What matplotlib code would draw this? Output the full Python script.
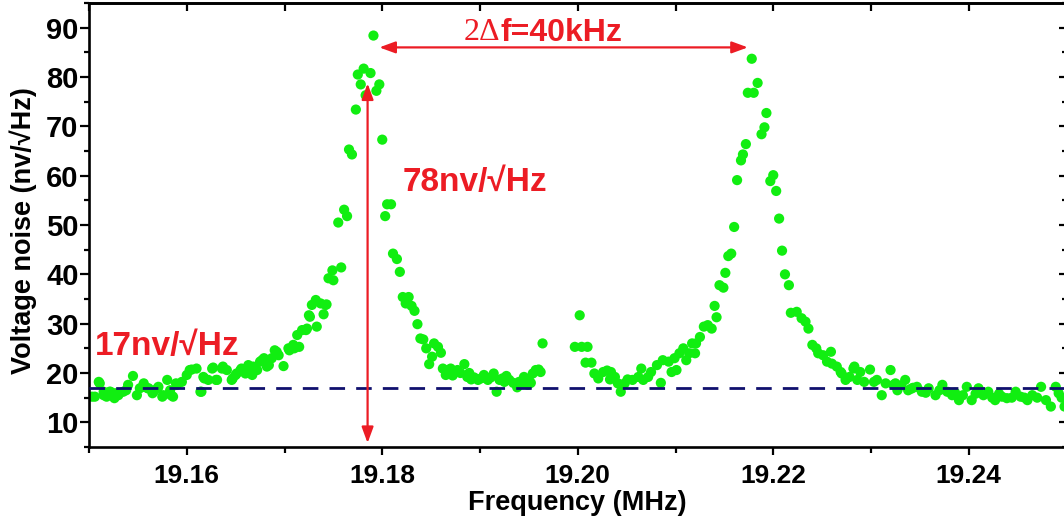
import matplotlib
matplotlib.use("Agg")
import matplotlib.pyplot as plt
from matplotlib.ticker import MultipleLocator, FormatStrFormatter, NullFormatter
from matplotlib.patches import ArrowStyle
import numpy as np

# ---- measured spectrum (frequency in MHz, voltage noise in nV/sqrt(Hz)) ----
left_tail_f = [19.1503, 19.1506, 19.1510, 19.1511, 19.1515, 19.1515, 19.1518, 19.1521,
               19.1522, 19.1526, 19.1527, 19.1530, 19.1531, 19.1535, 19.1538, 19.1540,
               19.1545, 19.1549, 19.1552, 19.1555, 19.1556, 19.1560, 19.1561, 19.1565,
               19.1566, 19.1570, 19.1571, 19.1575, 19.1576, 19.1580, 19.1583, 19.1584,
               19.1586, 19.1589, 19.1590, 19.1595, 19.1600, 19.1603, 19.1605, 19.1610,
               19.1614, 19.1615, 19.1617, 19.1618, 19.1622, 19.1626, 19.1627, 19.1630,
               19.1631, 19.1636, 19.1637, 19.1641, 19.1646, 19.1647, 19.1650, 19.1651,
               19.1655, 19.1656, 19.1660, 19.1663, 19.1665, 19.1667, 19.1668, 19.1672,
               19.1675, 19.1677, 19.1679, 19.1682, 19.1684, 19.1687, 19.1690, 19.1692,
               19.1694, 19.1699, 19.1704, 19.1705, 19.1709, 19.1710, 19.1713, 19.1715]
left_tail_v = [15.2, 15.2, 18.2, 17.9, 16.2, 15.5, 15.2, 16.2,
               16.2, 14.9, 15.9, 15.5, 15.9, 16.2, 16.5, 17.6,
               19.4, 15.5, 16.9, 17.2, 17.9, 16.9, 16.9, 15.9,
               16.2, 16.9, 17.2, 15.2, 15.5, 18.6, 16.5, 15.5,
               15.2, 17.9, 17.6, 18.2, 19.6, 20.6, 20.7, 20.9,
               16.2, 16.2, 19.2, 18.9, 18.6, 20.9, 21.1, 18.6,
               18.6, 20.9, 21.3, 20.6, 18.6, 18.9, 19.6, 19.9,
               20.6, 20.9, 19.9, 21.6, 19.9, 19.6, 21.3, 20.6,
               22.3, 22.6, 23.0, 21.3, 21.6, 23.0, 24.6, 24.3,
               23.6, 21.4, 25.0, 24.6, 25.7, 25.0, 27.7, 25.3]

peak1_f = [19.1718, 19.1722, 19.1723, 19.1725, 19.1726, 19.1728, 19.1732, 19.1733,
           19.1737, 19.1740, 19.1742, 19.1743, 19.1745, 19.1749, 19.1750, 19.1755,
           19.1758, 19.1761, 19.1764, 19.1766, 19.1769, 19.1773, 19.1775, 19.1778,
           19.1781, 19.1783, 19.1788, 19.1791, 19.1794, 19.1797, 19.1800, 19.1803,
           19.1805, 19.1809, 19.1811, 19.1815, 19.1818, 19.1821, 19.1824, 19.1827,
           19.1830, 19.1833, 19.1836, 19.1839, 19.1842, 19.1845, 19.1848, 19.1851,
           19.1853, 19.1857, 19.1860]
peak1_v = [28.7, 28.7, 29.0, 31.7, 31.4, 33.8, 34.8, 29.4,
           34.1, 31.9, 33.8, 33.9, 39.2, 40.8, 38.8, 50.5,
           41.4, 53.1, 51.8, 65.3, 64.3, 73.4, 80.5, 78.5,
           81.7, 76.3, 80.8, 88.4, 77.2, 78.5, 67.3, 51.8,
           54.2, 54.2, 44.2, 43.1, 40.5, 35.4, 34.1, 35.4,
           33.6, 32.6, 29.9, 27.0, 26.8, 25.0, 21.8, 23.3,
           26.0, 25.3, 24.1]

middle_f = [19.1862, 19.1865, 19.1867, 19.1870, 19.1872, 19.1874, 19.1877, 19.1880,
            19.1884, 19.1887, 19.1889, 19.1891, 19.1894, 19.1898, 19.1901, 19.1904,
            19.1906, 19.1908, 19.1911, 19.1914, 19.1917, 19.1920, 19.1923, 19.1925,
            19.1927, 19.1930, 19.1934, 19.1938, 19.1940, 19.1943, 19.1945, 19.1949,
            19.1950, 19.1952, 19.1954, 19.1957, 19.1960, 19.1962, 19.1964,
            19.1997, 19.2002, 19.2004, 19.2008, 19.2010, 19.2014, 19.2017, 19.2021,
            19.2026, 19.2030, 19.2033, 19.2034, 19.2038, 19.2041, 19.2044, 19.2048,
            19.2051, 19.2056, 19.2062, 19.2065, 19.2067, 19.2072, 19.2075, 19.2081,
            19.2085, 19.2087, 19.2093, 19.2096, 19.2099, 19.2101, 19.2104, 19.2108,
            19.2111, 19.2114, 19.2117, 19.2120, 19.2121, 19.2125]
middle_v = [20.9, 19.6, 20.6, 20.9, 19.5, 20.2, 20.6, 20.0,
            21.8, 19.2, 20.0, 18.7, 19.1, 18.6, 18.9, 19.6,
            19.0, 18.6, 19.1, 19.9, 16.2, 18.6, 18.9, 18.2,
            19.4, 18.6, 18.0, 17.1, 18.2, 17.8, 19.2, 17.6,
            18.6, 18.0, 19.9, 20.6, 20.7, 20.2, 26.0,
            25.3, 31.7, 25.3, 22.1, 25.3, 22.1, 19.9, 18.9,
            20.2, 20.5, 18.7, 20.2, 19.2, 17.9, 16.2, 17.9,
            18.7, 18.6, 19.2, 20.9, 18.6, 19.2, 20.2, 21.6,
            18.0, 22.6, 22.3, 20.2, 23.0, 20.6, 24.0, 25.0,
            22.6, 24.0, 26.0, 24.0, 26.0, 27.3]

peak2_f = [19.2129, 19.2133, 19.2137, 19.2140, 19.2142, 19.2145, 19.2149, 19.2151,
           19.2154, 19.2157, 19.2160, 19.2163, 19.2167, 19.2169, 19.2172, 19.2174,
           19.2178, 19.2180, 19.2184, 19.2188, 19.2191, 19.2193, 19.2197, 19.2200,
           19.2203, 19.2206, 19.2209, 19.2212, 19.2216, 19.2218, 19.2224, 19.2229,
           19.2233, 19.2236, 19.2240, 19.2244, 19.2246, 19.2251, 19.2255, 19.2259,
           19.2260, 19.2265, 19.2269]
peak2_v = [29.4, 29.7, 29.0, 33.6, 31.3, 37.8, 37.3, 40.3,
           43.7, 44.2, 49.6, 59.1, 63.1, 64.3, 66.4, 76.8,
           83.7, 76.8, 78.8, 68.4, 69.8, 72.7, 58.9, 60.1,
           56.9, 51.3, 44.8, 40.0, 37.8, 32.2, 32.4, 31.1,
           30.4, 29.0, 25.7, 25.0, 24.0, 23.6, 22.3, 24.3,
           21.9, 21.3, 20.2]

right_tail_f = [19.2270, 19.2274, 19.2278, 19.2282, 19.2283, 19.2286, 19.2289, 19.2293,
                19.2299, 19.2303, 19.2306, 19.2311, 19.2315, 19.2320, 19.2323, 19.2325,
                19.2327, 19.2331, 19.2335, 19.2338, 19.2341, 19.2343, 19.2347, 19.2352,
                19.2356, 19.2359, 19.2366, 19.2370, 19.2373, 19.2378, 19.2383, 19.2386,
                19.2390, 19.2394, 19.2398, 19.2403, 19.2407, 19.2410, 19.2415, 19.2420,
                19.2424, 19.2427, 19.2431, 19.2434, 19.2439, 19.2444, 19.2448, 19.2453,
                19.2457, 19.2460, 19.2465, 19.2470, 19.2474, 19.2479, 19.2484, 19.2489,
                19.2492, 19.2495, 19.2498]
right_tail_v = [19.9, 18.6, 19.2, 20.9, 21.3, 18.6, 20.2, 18.2,
                20.7, 18.2, 18.6, 15.5, 17.9, 20.6, 17.6, 17.9,
                16.5, 17.5, 18.6, 16.5, 16.8, 17.0, 17.2, 16.2,
                16.0, 16.9, 15.5, 16.5, 17.6, 16.2, 15.5, 16.0,
                14.5, 15.5, 17.2, 14.5, 15.8, 16.9, 15.5, 16.2,
                15.0, 14.5, 15.8, 15.2, 14.9, 15.0, 16.2, 15.2,
                15.0, 14.5, 15.5, 15.0, 17.2, 14.5, 13.2, 17.2,
                15.9, 15.0, 13.2]

# ---- annotation values ----
baseline_level = 17          # nV/sqrt(Hz)
peak_height = 78             # nV/sqrt(Hz)
split_left, split_right = 19.1797, 19.2174   # MHz, peak separation (2Δf)
split_level = 86
peak_marker_f = 19.1785

freq = np.concatenate([left_tail_f, peak1_f, middle_f, peak2_f, right_tail_f])
noise = np.concatenate([left_tail_v, peak1_v, middle_v, peak2_v, right_tail_v])

RED = "#EC1C24"
GREEN = "#11EE11"
NAVY = "#10106E"

plt.rcParams["font.family"] = ["Liberation Sans", "DejaVu Sans"]
plt.rcParams["font.weight"] = "bold"

W, H = 1064, 523
AX_W = 1066.5 - 89
fig = plt.figure(figsize=(W / 100, H / 100), dpi=100)
ax = fig.add_axes([89 / W, (H - 447) / H, AX_W / W, (447 - 3) / H])

ax.scatter(freq, noise, s=54, color=GREEN, edgecolors="none", zorder=2)
ax.axhline(baseline_level, color=NAVY, lw=2.0, linestyle=(0, (5.6, 4.0)), zorder=3)

ax.set_xlim(19.15, 19.25)
ax.set_ylim(5, 95)

ax.xaxis.set_major_locator(MultipleLocator(0.02))
ax.xaxis.set_minor_locator(MultipleLocator(0.01))
ax.xaxis.set_major_formatter(FormatStrFormatter("%.2f"))
ax.yaxis.set_minor_locator(MultipleLocator(5))
ax.yaxis.set_major_formatter(FormatStrFormatter("%d"))
ax.set_yticks(np.arange(10, 91, 10))

ax.tick_params(axis="both", which="both", direction="out", width=1.6)
ax.tick_params(axis="x", which="major", length=6, pad=6, labelsize=19)
ax.tick_params(axis="x", which="minor", length=4)
ax.tick_params(axis="y", which="major", length=6.5, pad=1, labelsize=21)
ax.tick_params(axis="y", which="minor", length=3.5)
for s in ax.spines.values():
    s.set_linewidth(1.9)

# mirrored ticks pointing inward on top and right
top = ax.secondary_xaxis("top")
top.xaxis.set_major_locator(MultipleLocator(0.02))
top.xaxis.set_minor_locator(MultipleLocator(0.01))
top.xaxis.set_major_formatter(NullFormatter())
top.tick_params(axis="x", which="both", direction="in", length=5.5, width=1.6)
top.spines["top"].set_linewidth(1.9)

right = ax.secondary_yaxis("right")
right.yaxis.set_major_locator(MultipleLocator(10))
right.yaxis.set_minor_locator(MultipleLocator(5))
right.yaxis.set_major_formatter(NullFormatter())
right.tick_params(axis="y", which="major", direction="in", length=6, width=1.6)
right.tick_params(axis="y", which="minor", direction="in", length=3.5, width=1.6)
right.spines["right"].set_linewidth(1.9)

ax.set_xlabel("Frequency (MHz)", fontsize=19.5, fontweight="bold", labelpad=2)
ax.set_ylabel("Voltage noise (nv/\u221aHz)", fontsize=19.5, fontweight="bold")
ax.yaxis.set_label_coords(-52 / AX_W, 0.487)

arrow = ArrowStyle("<|-|>", head_length=0.6, head_width=0.22)
ax.annotate("", xy=(split_left, split_level), xytext=(split_right, split_level),
            arrowprops=dict(arrowstyle=arrow, color=RED, lw=1.6, mutation_scale=16,
                            shrinkA=0, shrinkB=0), zorder=5)
ax.annotate("", xy=(peak_marker_f, baseline_level + peak_height - 16.3),
            xytext=(peak_marker_f, 5.8),
            arrowprops=dict(arrowstyle=arrow, color=RED, lw=1.6, mutation_scale=16,
                            shrinkA=0, shrinkB=0), zorder=5)

ax.text(19.1921, 89.0, "2\u0394", color=RED, fontsize=23, fontweight="normal",
        family=["Liberation Serif", "DejaVu Serif"], ha="right", va="center", zorder=6)
ax.text(19.1921, 89.0, "f=40kHz", color=RED, fontsize=23, fontweight="bold",
        ha="left", va="center", zorder=6)
ax.text(19.1821, 58.7, f"{peak_height}nv/\u221aHz", color=RED, fontsize=24,
        fontweight="bold", ha="left", va="center", zorder=6)
ax.text(19.1506, 25.3, f"{baseline_level}nv/\u221aHz", color=RED, fontsize=24,
        fontweight="bold", ha="left", va="center", zorder=6)

fig.savefig("out.png", dpi=100)
